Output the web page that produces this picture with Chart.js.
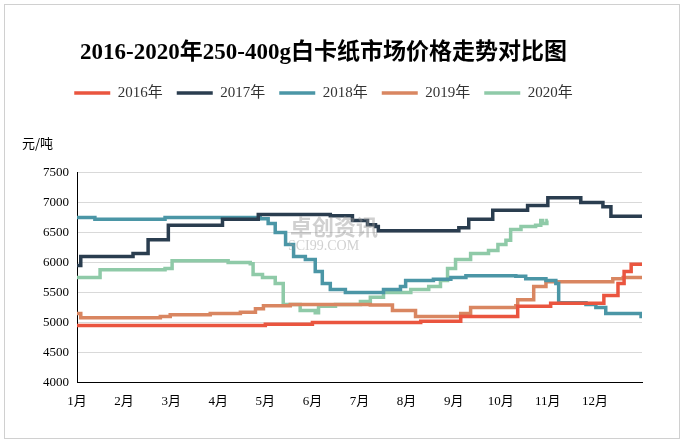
<!DOCTYPE html><html><head><meta charset="utf-8">
<script src="https://cdn.jsdelivr.net/npm/chart.js@4"></script>
<style>body{margin:0;background:#fff}#w{position:absolute;left:4px;top:4px;width:674px;height:433px;border:1px solid #d0d0d0}</style></head><body>
<div id="w"><canvas id="c"></canvas></div>
<script>
const monthLabels=['1月','2月','3月','4月','5月','6月','7月','8月','9月','10月','11月','12月'];
const names=['2016年','2017年','2018年','2019年','2020年'];
const colors=['#ea553f','#2a3d4f','#4b96a6','#d98661','#8fcaa8'];
const x2016=[0,4.0,5.0,7.3,8.15,9.36,10.06,11.19,11.49,11.62,11.77,12];
const y2016=[4950,4970,5000,5020,5100,5270,5320,5450,5650,5850,5970,5970];
const x2017=[0,0.08,1.19,1.51,1.94,3.09,3.85,5.38,5.85,6.17,6.34,6.4,8.11,8.32,8.83,9.57,10.0,10.7,11.17,11.34,12];
const y2017=[5950,6100,6150,6380,6620,6720,6800,6780,6700,6630,6600,6530,6580,6720,6870,6950,7080,7000,6930,6770,6770];
const x2018=[0,0.38,1.87,3.47,3.89,4.06,4.21,4.43,4.6,4.85,5.06,5.21,5.38,5.7,6.51,6.87,6.98,7.57,7.94,8.26,9.32,9.53,9.96,10.17,10.23,10.6,10.81,11.02,11.23,11.87,11.98,12];
const y2018=[6750,6720,6750,6750,6730,6650,6500,6300,6100,6050,5850,5650,5550,5500,5550,5600,5700,5720,5750,5780,5770,5730,5700,5650,5330,5330,5300,5250,5150,5150,5100,5100];
const x2019=[0,0.08,1.77,1.98,2.83,3.47,3.79,3.96,4.53,6.23,6.7,7.19,7.94,8.15,8.36,9.32,9.36,9.7,9.96,11.38,11.6,12];
const y2019=[5150,5080,5100,5130,5150,5170,5230,5280,5300,5290,5200,5100,5100,5150,5250,5280,5380,5600,5680,5730,5750,5750];
const x2020=[0,0.49,1.87,2.02,3.21,3.68,3.74,3.94,4.21,4.38,4.74,5.06,5.13,5.49,6.02,6.23,6.51,7.09,7.47,7.72,7.87,8.04,8.36,8.74,8.94,9.11,9.21,9.43,9.74,9.85,9.89,9.98,10.0];
const y2020=[5750,5880,5900,6030,6000,5980,5800,5750,5650,5300,5200,5160,5270,5300,5350,5420,5500,5550,5600,5700,5900,6050,6150,6200,6300,6370,6550,6600,6620,6700,6650,6700,6700];
const xs=[x2016,x2017,x2018,x2019,x2020], ys=[y2016,y2017,y2018,y2019,y2020];
const datasets=names.map((n,i)=>({label:n,data:xs[i].map((x,j)=>({x:x,y:ys[i][j]})),borderColor:colors[i],backgroundColor:colors[i],borderWidth:3.5,pointRadius:0,stepped:true,fill:false}));
const legendMargin={id:'legendMargin',beforeInit(ch){const f=ch.legend.fit;ch.legend.fit=function(){f.call(this);this.height+=62;};}};
const extra={id:'extra',afterDraw(ch){const c=ch.ctx;c.save();c.fillStyle='#000';c.font='13px "Noto Sans CJK SC"';c.textAlign='left';c.fillText('元/吨',17,138);
c.fillStyle='rgba(150,150,150,0.45)';c.font='bold 22px "Noto Sans CJK SC"';c.fillText('卓创资讯',285,222);c.font='14px "Liberation Serif"';c.fillText('SCI99.COM',283,241);c.restore();}};
new Chart(document.getElementById('c'),{type:'line',data:{datasets},plugins:[legendMargin,extra],
options:{responsive:true,maintainAspectRatio:false,animation:false,
layout:{padding:{left:0,right:37,top:30,bottom:26}},
plugins:{title:{display:true,text:'2016-2020年250-400g白卡纸市场价格走势对比图',color:'#000',font:{family:'"Liberation Serif","Noto Sans CJK SC"',size:23,weight:'bold'},padding:{top:4,bottom:5}},
legend:{labels:{usePointStyle:true,pointStyle:'line',pointStyleWidth:36,color:'#333',font:{family:'"Liberation Serif","Noto Sans CJK SC"',size:15},padding:14},onClick:null},tooltip:{enabled:false}},
scales:{x:{type:'linear',min:0,max:12,grid:{display:false,drawTicks:true},border:{color:'#000'},
ticks:{stepSize:1,color:'#000',font:{size:13,family:'"Liberation Serif","Noto Sans CJK SC"'},callback:v=>v<12?monthLabels[v]:''}},
y:{min:4000,max:7500,afterFit(s){s.width=72},grid:{color:'#d9d9d9',drawTicks:false},border:{color:'#000'},ticks:{stepSize:500,color:'#000',padding:8,font:{size:13,family:'"Liberation Serif"'},callback:v=>String(v)}}}}});
</script></body></html>
